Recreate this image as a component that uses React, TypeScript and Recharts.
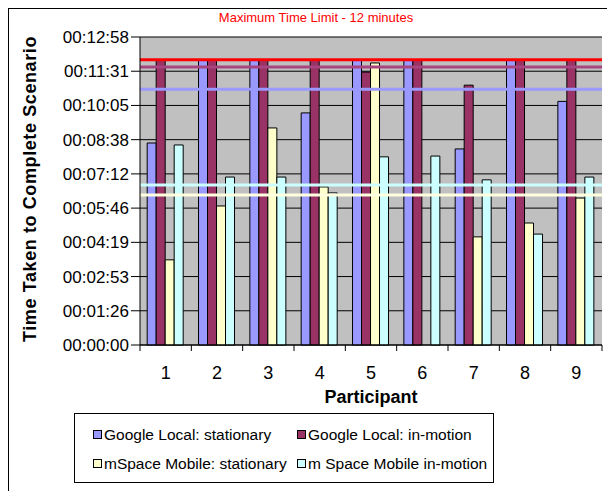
import { Bar, BarChart, CartesianGrid, Legend, ReferenceLine, XAxis, YAxis } from 'recharts'

// times are in seconds
const participants = ['1', '2', '3', '4', '5', '6', '7', '8', '9']
const glStationary = [510, 720, 720, 586, 720, 720, 495, 720, 615]
const glInMotion = [720, 720, 720, 720, 689, 720, 656, 720, 720]
const msStationary = [215, 351, 548, 399, 712, null, 273, 308, 371]
const msInMotion = [505, 424, 424, 384, 475, 477, 417, 280, 424]

const yTicks = [0, 86.4, 172.8, 259.2, 345.6, 432, 518.4, 604.8, 691.2, 777.6]

const refValues = [720, 702, 646, 404, 379]
const refColors = ['#FF0000', '#A8447F', '#9999FF', '#CCFFFF', '#FFFFE0']

const seriesNames = [
  'Google Local: stationary',
  'Google Local: in-motion',
  'mSpace Mobile: stationary',
  'm Space Mobile in-motion',
]
const seriesKeys = ['glS', 'glM', 'msS', 'msM']
const seriesColors = ['#9999FF', '#993366', '#FFFFCC', '#CCFFFF']

const data = participants.map((p, i) => ({
  p,
  glS: glStationary[i],
  glM: glInMotion[i],
  msS: msStationary[i],
  msM: msInMotion[i],
}))

const FONT = 'Arial, "Liberation Sans", sans-serif'

const pad = (n: number) => String(n).padStart(2, '0')
const fmtTime = (v: number) => {
  const s = Math.round(v)
  return `${pad(Math.floor(s / 3600))}:${pad(Math.floor((s % 3600) / 60))}:${pad(s % 60)}`
}

function XTick(props: any) {
  const { x, y, payload, index } = props
  const half = payload?.offset ?? 25.7
  return (
    <g>
      <line x1={x - half} x2={x - half} y1={y - 8} y2={y - 2} stroke="#000" />
      {index === participants.length - 1 && (
        <line x1={x + half} x2={x + half} y1={y - 8} y2={y - 2} stroke="#000" />
      )}
      <text x={x} y={y + 26} textAnchor="middle" fontSize={18} fontFamily={FONT} fill="#000">
        {payload.value}
      </text>
    </g>
  )
}

function LegendBox() {
  return (
    <div
      style={{
        border: '1px solid #000',
        width: 420,
        height: 70,
        display: 'grid',
        gridTemplateColumns: '204px 200px',
        gridTemplateRows: '29px 29px',
        padding: '6px 0 0 18px',
        boxSizing: 'border-box',
        fontFamily: FONT,
        fontSize: 15.5,
        color: '#000',
        background: '#fff',
      }}
    >
      {seriesNames.map((name, i) => (
        <div key={name} style={{ display: 'flex', alignItems: 'center', whiteSpace: 'nowrap' }}>
          <span
            style={{
              display: 'inline-block',
              width: 7,
              height: 7,
              background: seriesColors[i],
              border: '1px solid #000',
              marginRight: 2,
            }}
          />
          {name}
        </div>
      ))}
    </div>
  )
}

export default function App() {
  return (
    <div
      style={{
        position: 'absolute',
        left: 0,
        top: 0,
        width: 607,
        height: 491,
        background: '#fff',
        overflow: 'hidden',
      }}
    >
      <div
        style={{
          position: 'absolute',
          left: 8,
          top: 8,
          width: 640,
          height: 520,
          border: '1px solid #000',
        }}
      />
      <div
        style={{
          position: 'absolute',
          top: 10,
          left: 216,
          width: 200,
          textAlign: 'center',
          color: '#FF0000',
          fontFamily: FONT,
          fontSize: 13,
        }}
      >
        Maximum Time Limit - 12 minutes
      </div>
      <div style={{ position: 'absolute', left: 0, top: 0 }}>
        <BarChart
          width={607}
          height={491}
          data={data}
          margin={{ top: 37, right: 5, left: 0, bottom: 86 }}
          barCategoryGap="14%"
          barGap={0}
        >
          <CartesianGrid vertical={false} stroke="#000" fill="#C0C0C0" fillOpacity={1} />
          <XAxis
            dataKey="p"
            height={60}
            stroke="#000"
            tickLine={false}
            tick={<XTick />}
            interval={0}
            label={{
              content: ({ viewBox }: any) => (
                <text
                  x={viewBox.x + viewBox.width / 2}
                  y={viewBox.y + 58}
                  textAnchor="middle"
                  fontSize={18}
                  fontWeight="bold"
                  fontFamily={FONT}
                  fill="#000"
                >
                  Participant
                </text>
              ),
            }}
          />
          <YAxis
            width={140}
            domain={[0, 777.6]}
            ticks={yTicks}
            interval={0}
            stroke="#000"
            tickSize={9}
            tickFormatter={fmtTime}
            tick={{ fontSize: 17, fontFamily: FONT, fill: '#000' }}
            label={{
              content: ({ viewBox }: any) => (
                <text
                  transform={`translate(${viewBox.x + 31}, ${viewBox.y + viewBox.height / 2 - 2}) rotate(-90)`}
                  textAnchor="middle"
                  dominantBaseline="middle"
                  fontSize={18}
                  fontWeight="bold"
                  fontFamily={FONT}
                  letterSpacing={0.6}
                  fill="#000"
                >
                  Time Taken to Complete Scenario
                </text>
              ),
            }}
          />
          <Legend
            layout="horizontal"
            verticalAlign="middle"
            align="center"
            wrapperStyle={{ top: 413, left: 74, width: 422, height: 72 }}
            content={() => <LegendBox />}
          />
          {seriesKeys.map((k, i) => (
            <Bar
              key={k}
              dataKey={k}
              name={seriesNames[i]}
              fill={seriesColors[i]}
              stroke="#000"
              strokeWidth={1}
              isAnimationActive={false}
            />
          ))}
          {refValues.map((v, i) => (
            <ReferenceLine key={v} y={v} stroke={refColors[i]} strokeWidth={3} ifOverflow="extendDomain" />
          ))}
        </BarChart>
      </div>
    </div>
  )
}
